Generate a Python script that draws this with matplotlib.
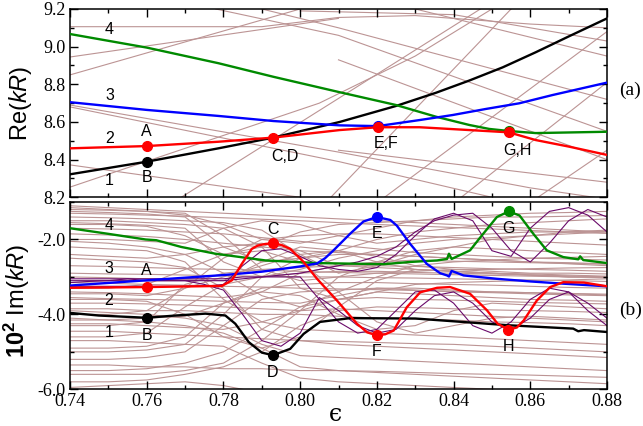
import numpy as np
import matplotlib
matplotlib.use("Agg")
import matplotlib.pyplot as plt
from matplotlib.ticker import MultipleLocator, FormatStrFormatter

plt.rcParams['axes.unicode_minus'] = False
plt.rcParams['mathtext.fontset'] = 'custom'
plt.rcParams['mathtext.rm'] = 'Liberation Sans'
plt.rcParams['mathtext.it'] = 'Liberation Sans:italic'
plt.rcParams['mathtext.bf'] = 'Liberation Sans:bold'

# ---------------- panel (a): Re(kR) ----------------
re_black_x = [0.74, 0.76, 0.7787, 0.793, 0.8103, 0.825, 0.8354, 0.8441, 0.8528, 0.8614, 0.8701, 0.88]
re_black_y = [8.322, 8.389, 8.46, 8.517, 8.60, 8.685, 8.755, 8.82, 8.89, 8.97, 9.055, 9.15]
re_green_x = [0.74, 0.76, 0.7787, 0.793, 0.8103, 0.825, 0.8354, 0.8441, 0.8493, 0.8544, 0.8614, 0.88]
re_green_y = [9.067, 8.995, 8.912, 8.84, 8.758, 8.69, 8.628, 8.584, 8.563, 8.552, 8.541, 8.548]
re_blue_x = [0.74, 0.76, 0.7787, 0.793, 0.8103, 0.8202, 0.8311, 0.8398, 0.8484, 0.8571, 0.8658, 0.88]
re_blue_y = [8.705, 8.664, 8.632, 8.605, 8.582, 8.578, 8.61, 8.637, 8.669, 8.699, 8.743, 8.809]
re_red_x = [0.74, 0.76, 0.7787, 0.793, 0.8103, 0.8202, 0.8311, 0.8441, 0.8544, 0.8614, 0.8701, 0.88]
re_red_y = [8.46, 8.472, 8.495, 8.517, 8.557, 8.572, 8.572, 8.557, 8.545, 8.504, 8.469, 8.425]

# background resonances in (a), each as (x list, y list)
re_bg = [
    ([0.74, 0.79, 0.81, 0.83, 0.86, 0.88], [9.106, 9.106, 9.155, 9.165, 9.12, 9.10]),
    ([0.74, 0.80], [8.85, 9.20]),
    ([0.74, 0.81], [8.945, 9.15]),
    ([0.778, 0.81, 0.88], [9.2, 9.06, 8.55]),
    ([0.79, 0.81, 0.88], [9.2, 9.10, 8.72]),
    ([0.74, 0.81, 0.86, 0.88], [8.69, 8.44, 8.25, 8.19]),
    ([0.74, 0.81, 0.85], [8.68, 8.39, 8.2]),
    ([0.74, 0.80], [8.372, 8.2]),
    ([0.74, 0.805, 0.83, 0.85], [8.254, 8.70, 8.95, 9.2]),
    ([0.769, 0.81, 0.847], [8.2, 8.725, 9.2]),
    ([0.808, 0.855], [8.2, 9.2]),
    ([0.822, 0.88], [8.2, 9.08]),
    ([0.842, 0.88], [8.2, 8.81]),
    ([0.862, 0.88], [8.2, 8.45]),
    ([0.81, 0.88], [8.93, 8.40]),
    ([0.81, 0.88], [8.45, 8.28]),
    ([0.80, 0.84, 0.88], [9.19, 9.17, 9.03]),
    ([0.83, 0.88], [9.2, 8.95]),
]

# ---------------- panel (b): 10^2 Im(kR) ----------------
im_red_x = [0.74, 0.76, 0.7796, 0.7822, 0.7848, 0.7874, 0.789, 0.7909, 0.7929, 0.7952, 0.7974, 0.8009,
            0.8044, 0.8096, 0.8148, 0.8175, 0.82, 0.8222, 0.8244, 0.8278, 0.8313, 0.8357, 0.8391,
            0.8443, 0.8487, 0.8515, 0.8543, 0.8565, 0.8583, 0.8617, 0.8652, 0.8686, 0.874, 0.88]
im_red_y = [-3.29, -3.27, -3.24, -3.09, -2.65, -2.25, -2.16, -2.12, -2.10, -2.15, -2.25, -2.60,
            -3.05, -3.63, -4.25, -4.48, -4.56, -4.53, -4.43, -3.81, -3.41, -3.29, -3.27,
            -3.45, -3.89, -4.25, -4.41, -4.35, -4.16, -3.63, -3.27, -3.14, -3.15, -3.25]
im_blue_x = [0.74, 0.76, 0.78, 0.79, 0.80, 0.8044, 0.8065, 0.8087, 0.813, 0.8165, 0.82, 0.8235,
             0.8252, 0.8287, 0.833, 0.8365, 0.8383, 0.8388, 0.8395, 0.8426, 0.8513, 0.86, 0.8686, 0.88]
im_blue_y = [-3.23, -3.09, -2.95, -2.86, -2.72, -2.64, -2.50, -2.29, -1.85, -1.52, -1.40, -1.48,
             -1.63, -2.12, -2.65, -2.90, -2.96, -2.99, -2.84, -2.96, -3.05, -3.12, -3.18, -3.25]
im_green_x = [0.74, 0.75, 0.7597, 0.7625, 0.769, 0.7779, 0.791, 0.8044, 0.8217, 0.8287, 0.8357,
              0.8383, 0.8388, 0.8395, 0.8443, 0.847, 0.8513, 0.8544, 0.8572, 0.8608, 0.8643,
              0.8686, 0.8725, 0.873, 0.8738, 0.88]
im_green_y = [-1.70, -1.85, -2.0, -2.02, -2.2, -2.38, -2.56, -2.63, -2.66, -2.60, -2.56,
              -2.52, -2.38, -2.52, -2.29, -1.94, -1.40, -1.25, -1.36, -1.85, -2.29,
              -2.47, -2.53, -2.45, -2.55, -2.63]
im_black_x = [0.74, 0.7475, 0.7599, 0.7675, 0.7753, 0.7805, 0.7831, 0.7866, 0.790, 0.7929, 0.7974,
              0.8009, 0.8052, 0.813, 0.83, 0.8543, 0.8712, 0.8725, 0.874, 0.88]
im_black_y = [-3.96, -4.03, -4.09, -4.03, -3.98, -4.03, -4.25, -4.74, -5.02, -5.09, -4.92,
              -4.52, -4.20, -4.10, -4.11, -4.29, -4.38, -4.45, -4.42, -4.47]

# background resonances in (b) on a common grid
im_bg_x = [0.74, 0.75, 0.76, 0.77, 0.78, 0.79, 0.80, 0.81, 0.82, 0.83, 0.84, 0.85, 0.86, 0.87, 0.88]
im_bg = [
    [-1.10, -1.15, -1.20, -1.25, -1.30, -1.35, -1.40, -1.45, -1.50, -1.55, -1.60, -1.65, -1.70, -1.75, -1.80],
    [-1.25, -1.28, -1.32, -1.40, -2.2, -2.6, -2.5, -2.3, -2.0, -1.8, -1.7, -1.6, -1.55, -1.5, -1.45],
    [-1.40, -1.42, -1.45, -1.50, -1.55, -1.75, -2.4, -2.9, -2.7, -2.4, -2.2, -2.0, -1.9, -1.8, -1.75],
    [-1.55, -1.58, -1.62, -1.70, -2.6, -3.0, -2.8, -2.5, -2.3, -2.1, -2.0, -1.95, -1.9, -1.85, -1.8],
    [-1.70, -1.72, -1.75, -1.80, -1.85, -1.95, -2.05, -2.15, -2.25, -2.35, -2.40, -2.45, -2.50, -2.52, -2.55],
    [-1.30, -1.32, -1.35, -1.38, -1.42, -1.46, -1.50, -1.55, -1.60, -1.64, -1.68, -1.72, -1.76, -1.80, -1.84],
    [-1.85, -1.88, -1.92, -2.0, -2.1, -2.2, -2.3, -2.35, -2.4, -2.45, -2.5, -2.55, -2.6, -2.65, -2.7],
    [-2.9, -2.92, -2.93, -2.95, -2.97, -2.98, -3.0, -3.0, -3.02, -3.03, -3.05, -3.07, -3.08, -3.1, -3.12],
    [-3.0, -3.02, -3.05, -3.08, -3.1, -2.6, -2.2, -2.3, -2.6, -2.8, -2.85, -2.9, -2.95, -3.0, -3.0],
    [-3.4, -3.42, -3.45, -3.5, -3.55, -3.4, -2.9, -2.7, -2.75, -2.8, -2.85, -2.9, -2.92, -2.95, -2.98],
    [-3.55, -3.58, -3.6, -3.62, -3.65, -3.68, -3.7, -3.5, -3.3, -3.3, -3.35, -3.4, -3.42, -3.45, -3.48],
    [-3.7, -3.7, -3.72, -3.75, -3.8, -3.85, -3.9, -3.6, -3.4, -3.45, -3.5, -3.55, -3.6, -3.62, -3.65],
    [-4.3, -4.3, -4.2, -3.2, -2.9, -2.8, -2.75, -2.7, -2.7, -2.72, -2.75, -2.78, -2.8, -2.82, -2.85],
    [-4.6, -4.6, -4.5, -3.8, -3.2, -3.0, -2.9, -2.85, -2.85, -2.88, -2.9, -2.92, -2.95, -2.97, -3.0],
    [-4.9, -4.9, -4.85, -4.6, -3.7, -3.3, -3.2, -3.15, -3.15, -3.18, -3.2, -3.22, -3.25, -3.28, -3.3],
    [-5.2, -5.2, -5.15, -5.0, -4.3, -3.6, -3.4, -3.35, -3.3, -3.35, -3.4, -3.42, -3.45, -3.48, -3.5],
    [-5.5, -5.5, -5.45, -5.3, -5.0, -4.4, -3.8, -3.6, -3.55, -3.6, -3.62, -3.65, -3.68, -3.7, -3.72],
    [-5.8, -5.8, -5.75, -5.6, -5.4, -5.0, -4.3, -3.9, -3.8, -3.82, -3.85, -3.88, -3.9, -3.92, -3.95],
    [-2.2, -2.25, -2.3, -2.6, -3.6, -4.2, -4.4, -4.45, -4.5, -4.55, -4.6, -4.65, -4.7, -4.75, -4.8],
    [-2.5, -2.55, -2.6, -2.75, -3.3, -4.4, -4.7, -4.8, -4.85, -4.9, -4.95, -5.0, -5.05, -5.1, -5.15],
    [-3.9, -3.95, -4.0, -4.1, -4.3, -4.8, -5.1, -5.15, -5.2, -5.25, -5.3, -5.35, -5.4, -5.45, -5.5],
    [-4.1, -4.15, -4.2, -4.3, -4.5, -4.9, -5.4, -5.5, -5.55, -5.6, -5.65, -5.7, -5.75, -5.8, -5.85],
    [-4.45, -4.45, -4.5, -4.55, -4.6, -4.65, -4.7, -4.72, -4.75, -4.78, -4.8, -4.85, -4.9, -4.95, -5.0],
    [-4.7, -4.7, -4.75, -4.8, -4.85, -5.3, -5.7, -5.8, -5.85, -5.9, -5.95, -6.0, -6.05, -6.1, -6.15],
    [-3.85, -3.85, -3.9, -3.9, -3.95, -4.0, -4.0, -4.05, -4.1, -4.12, -4.15, -4.2, -4.22, -4.25, -4.3],
    [-4.25, -4.25, -4.3, -4.35, -4.4, -4.2, -3.9, -3.85, -3.9, -3.95, -4.0, -4.05, -4.1, -4.15, -4.2],
    [-3.3, -3.3, -3.2, -2.8, -2.4, -2.3, -2.6, -3.4, -4.2, -4.5, -4.3, -4.1, -4.05, -4.1, -4.15],
    [-3.6, -3.6, -3.65, -4.0, -4.6, -4.9, -4.6, -3.8, -3.1, -2.8, -2.85, -2.9, -2.95, -3.0, -3.0],
    [-2.4, -2.45, -2.5, -2.4, -2.2, -2.1, -2.3, -2.7, -2.6, -2.3, -2.2, -2.25, -2.3, -2.35, -2.4],
    [-1.6, -1.6, -1.65, -1.9, -2.4, -2.2, -1.8, -1.6, -1.55, -1.5, -1.45, -1.4, -1.4, -1.38, -1.36],
    [-2.0, -2.0, -2.05, -2.1, -1.7, -1.5, -1.6, -1.9, -2.1, -2.0, -1.9, -1.85, -1.8, -1.8, -1.78],
    [-1.2, -1.22, -1.25, -1.3, -1.9, -2.8, -3.1, -3.0, -2.9, -2.85, -2.8, -2.8, -2.78, -2.76, -2.75],
    [-1.5, -1.5, -1.55, -1.6, -1.7, -2.2, -3.3, -3.6, -3.4, -3.2, -3.15, -3.12, -3.1, -3.08, -3.05],
    [-2.7, -2.72, -2.75, -2.78, -2.8, -2.82, -2.85, -2.88, -2.9, -2.92, -2.94, -2.96, -2.98, -3.0, -3.02],
    [-3.15, -3.17, -3.2, -3.22, -3.25, -3.27, -3.3, -3.32, -3.34, -3.36, -3.38, -3.4, -3.42, -3.44, -3.46],
    [-4.0, -4.0, -3.9, -3.3, -2.5, -2.0, -1.9, -1.85, -1.85, -1.9, -1.95, -2.0, -2.05, -2.1, -2.15],
    [-5.0, -5.0, -4.95, -4.8, -4.0, -3.0, -2.5, -2.4, -2.4, -2.45, -2.5, -2.55, -2.6, -2.62, -2.65],
    [-5.6, -5.6, -5.6, -5.5, -5.3, -4.7, -3.9, -3.0, -2.6, -2.55, -2.58, -2.6, -2.62, -2.64, -2.66],
    [-5.35, -5.35, -5.4, -5.4, -5.45, -5.45, -5.5, -5.5, -5.52, -5.55, -5.58, -5.6, -5.62, -5.65, -5.68],
    [-1.15, -1.2, -1.25, -1.35, -1.6, -2.0, -2.1, -1.9, -1.7, -1.5, -1.4, -1.35, -1.3, -1.28, -1.25],
    [-2.05, -2.1, -2.2, -2.4, -2.9, -3.5, -3.8, -3.4, -3.0, -2.7, -2.6, -2.55, -2.5, -2.48, -2.45],
    [-4.15, -4.15, -4.1, -4.05, -3.7, -3.4, -3.5, -4.0, -4.4, -4.3, -3.9, -3.7, -3.75, -3.8, -3.85],
    [-3.45, -3.45, -3.5, -3.3, -3.0, -2.7, -2.4, -2.3, -2.45, -2.7, -2.8, -2.85, -2.9, -2.9, -2.92],
    [-5.95, -5.9, -5.85, -5.8, -5.9, -6.1, -6.2, -6.2, -6.2, -6.2, -6.2, -6.2, -6.2, -6.2, -6.2],
]

# partner states (dark purple) on a finer grid
im_pur_x = [0.74, 0.745, 0.75, 0.755, 0.76, 0.765, 0.77, 0.775, 0.78, 0.785, 0.79, 0.795, 0.80,
            0.805, 0.81, 0.815, 0.82, 0.825, 0.83, 0.835, 0.84, 0.845, 0.85, 0.855, 0.86,
            0.865, 0.87, 0.875, 0.88]
im_pur = [
    [-3.15, -3.12, -3.10, -3.05, -3.10, -3.10, -3.10, -3.20, -3.35, -4.00, -4.70, -4.85, -4.50,
     -3.55, -3.90, -4.30, -4.50, -4.40, -3.90, -3.50, -3.40, -3.70, -4.20, -4.40, -4.10,
     -3.60, -3.40, -3.70, -4.10],
    [-3.25, -3.25, -3.25, -3.25, -3.25, -3.25, -3.25, -3.25, -3.20, -2.70, -2.30, -2.25, -2.45,
     -2.70, -2.80, -2.85, -2.75, -2.40, -1.90, -1.45, -1.30, -1.50, -2.30, -2.45, -1.70,
     -1.25, -1.15, -1.35, -1.80],
    [-3.05, -3.05, -3.05, -3.05, -3.05, -3.05, -3.05, -3.05, -3.05, -3.00, -3.00, -3.00, -3.00,
     -3.60, -4.20, -4.50, -4.40, -3.90, -3.40, -3.35, -3.70, -4.30, -4.50, -4.20, -3.60,
     -3.30, -3.40, -3.90, -4.30],
    [-3.10, -3.10, -3.10, -3.10, -3.10, -3.10, -3.10, -3.10, -3.10, -3.05, -3.00, -2.95, -2.90,
     -2.80, -2.70, -2.60, -2.45, -2.20, -1.80, -1.50, -1.35, -1.30, -1.70, -2.30, -2.60,
     -2.10, -1.50, -1.20, -1.40],
]

BROWN = '#bc9494'
PURPLE = '#6a0a6a'
GREEN = '#008a00'

fig = plt.figure(figsize=(6.43, 4.26), dpi=100)
ax1 = fig.add_axes([0.1089, 0.5369, 0.8351, 0.4420])
ax2 = fig.add_axes([0.1089, 0.0861, 0.8351, 0.4397])

# --- (a)
for xs, ys in re_bg:
    ax1.plot(xs, ys, color=BROWN, lw=0.8, zorder=1)
ax1.plot(re_black_x, re_black_y, color='k', lw=1.7, zorder=3)
ax1.plot(re_green_x, re_green_y, color=GREEN, lw=1.7, zorder=3)
ax1.plot(re_blue_x, re_blue_y, color='b', lw=1.7, zorder=3)
ax1.plot(re_red_x, re_red_y, color='r', lw=1.7, zorder=4)

ax1.plot([0.76], [8.472], 'o', color='r', ms=7, zorder=5)
ax1.plot([0.76], [8.389], 'o', color='k', ms=7, zorder=5)
ax1.plot([0.793], [8.517], 'o', color='r', ms=7, zorder=5)
ax1.plot([0.8202], [8.579], 'o', color='b', ms=7, zorder=5)
ax1.plot([0.8202], [8.571], 'o', color='r', ms=7, zorder=6)
ax1.plot([0.8544], [8.553], 'o', color=GREEN, ms=7, zorder=5)
ax1.plot([0.8544], [8.545], 'o', color='r', ms=7, zorder=6)

lab = dict(ha='center', va='center', fontsize=11.5, family='Liberation Sans', zorder=7)
ax1.text(0.76, 8.548, 'A', **lab)
ax1.text(0.76, 8.304, 'B', **lab)
ax1.text(0.796, 8.416, 'C,D', **lab)
ax1.text(0.8224, 8.487, 'E,F', **lab)
ax1.text(0.8567, 8.451, 'G,H', **lab)
ax1.text(0.7503, 9.09, '4', **lab)
ax1.text(0.7503, 8.743, '3', **lab)
ax1.text(0.7503, 8.513, '2', **lab)
ax1.text(0.7503, 8.29, '1', **lab)

ax1.set_xlim(0.74, 0.88)
ax1.set_ylim(8.2, 9.2)
ax1.yaxis.set_major_locator(MultipleLocator(0.2))
ax1.yaxis.set_minor_locator(MultipleLocator(0.1))
ax1.yaxis.set_major_formatter(FormatStrFormatter('%.1f'))
ax1.set_ylabel(r'Re($\mathit{kR}$)', fontsize=17, family='Liberation Sans')
ax1.yaxis.set_label_coords(-0.068, 0.5)
ax1.tick_params(labelbottom=False)

# --- (b)
for ys in im_bg:
    ax2.plot(im_bg_x, ys, color=BROWN, lw=0.8, zorder=1)
for ys in im_pur:
    ax2.plot(im_pur_x, ys, color=PURPLE, lw=0.8, zorder=2)
ax2.plot(im_black_x, im_black_y, color='k', lw=1.7, zorder=3)
ax2.plot(im_green_x, im_green_y, color=GREEN, lw=1.7, zorder=3)
ax2.plot(im_blue_x, im_blue_y, color='b', lw=1.7, zorder=3)
ax2.plot(im_red_x, im_red_y, color='r', lw=1.7, zorder=4)

ax2.plot([0.76], [-3.27], 'o', color='r', ms=7, zorder=5)
ax2.plot([0.76], [-4.09], 'o', color='k', ms=7, zorder=5)
ax2.plot([0.7929], [-2.10], 'o', color='r', ms=7, zorder=5)
ax2.plot([0.7929], [-5.09], 'o', color='k', ms=7, zorder=5)
ax2.plot([0.82], [-1.40], 'o', color='b', ms=7, zorder=5)
ax2.plot([0.82], [-4.56], 'o', color='r', ms=7, zorder=5)
ax2.plot([0.8544], [-1.25], 'o', color=GREEN, ms=7, zorder=5)
ax2.plot([0.8543], [-4.41], 'o', color='r', ms=7, zorder=5)

ax2.text(0.76, -2.83, 'A', **lab)
ax2.text(0.76, -4.56, 'B', **lab)
ax2.text(0.7929, -1.74, 'C', **lab)
ax2.text(0.7929, -5.54, 'D', **lab)
ax2.text(0.82, -1.85, 'E', **lab)
ax2.text(0.82, -4.98, 'F', **lab)
ax2.text(0.8544, -1.71, 'G', **lab)
ax2.text(0.8543, -4.85, 'H', **lab)
ax2.text(0.7501, -1.63, '4', **lab)
ax2.text(0.7501, -2.78, '3', **lab)
ax2.text(0.7501, -3.63, '2', **lab)
ax2.text(0.7501, -4.47, '1', **lab)

ax2.set_xlim(0.74, 0.88)
ax2.set_ylim(-6.0, -1.0)
ax2.yaxis.set_major_locator(MultipleLocator(2.0))
ax2.yaxis.set_minor_locator(MultipleLocator(1.0))
ax2.yaxis.set_major_formatter(FormatStrFormatter('%.1f'))
ax2.set_ylabel(r'$\mathbf{10^{2}}$ Im($\mathit{kR}$)', fontsize=17, family='Liberation Sans')
ax2.yaxis.set_label_coords(-0.07, 0.47)
ax2.set_xlabel('ϵ', fontsize=17, family='DejaVu Serif')
ax2.xaxis.set_label_coords(0.4935, -0.075)

for ax in (ax1, ax2):
    ax.xaxis.set_major_locator(MultipleLocator(0.02))
    ax.xaxis.set_minor_locator(MultipleLocator(0.01))
    ax.xaxis.set_major_formatter(FormatStrFormatter('%.2f'))
    ax.tick_params(which='both', direction='in', top=True, right=True, width=1)
    ax.tick_params(which='major', length=6, labelsize=13, pad=3)
    ax.tick_params(which='minor', length=3)
    for t in ax.get_xticklabels() + ax.get_yticklabels():
        t.set_family('Liberation Serif')
    for s in ax.spines.values():
        s.set_linewidth(1.1)

fig.text(0.98, 0.789, '(a)', ha='center', va='center', fontsize=14, family='Liberation Serif')
fig.text(0.98, 0.272, '(b)', ha='center', va='center', fontsize=14, family='Liberation Serif')

fig.savefig('out.png', dpi=100)
